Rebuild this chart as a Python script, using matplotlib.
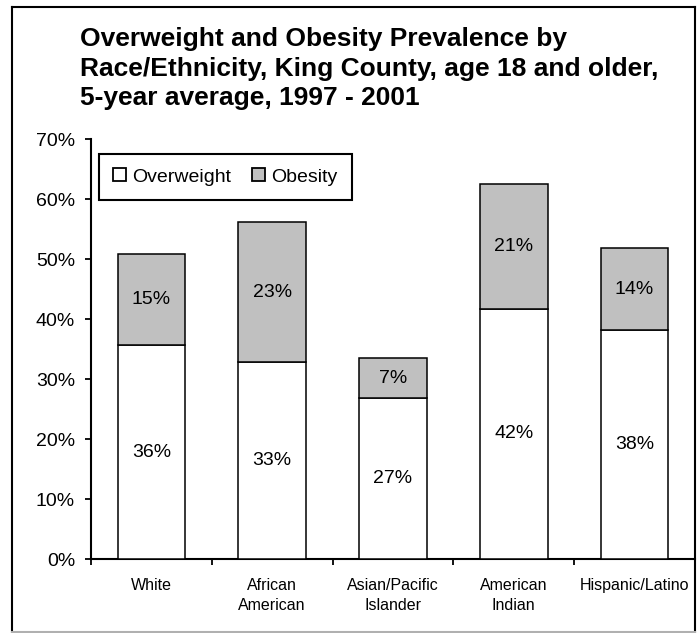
import matplotlib
matplotlib.use("Agg")
import matplotlib.pyplot as plt
from matplotlib.lines import Line2D
from matplotlib.ticker import FixedLocator

plt.rcParams.update({
    "font.family": ["Liberation Sans", "DejaVu Sans"],
    "font.size": 14,
})

categories = ["White", "African\nAmerican", "Asian/Pacific\nIslander", "American\nIndian", "Hispanic/Latino"]
overweight = [35.6, 32.8, 26.8, 41.7, 38.2]
obesity = [15.3, 23.3, 6.7, 20.8, 13.6]
yticks = [0, 10, 20, 30, 40, 50, 60, 70]

title_lines = ["Overweight and Obesity Prevalence by",
               "Race/Ethnicity, King County, age 18 and older,",
               "5-year average, 1997 - 2001"]

W, H = 698, 633
fig = plt.figure(figsize=(W / 100, H / 100), dpi=100)
fig.patch.set_facecolor("white")

# axes box in pixels: x 91..695, y 139..559
ax = fig.add_axes([91 / W, (H - 559) / H, (695 - 91) / W, (559 - 139) / H])

x = list(range(len(categories)))
bw = 0.56
ax.bar(x, overweight, width=bw, color="white", edgecolor="black", lw=1.1, zorder=3)
ax.bar(x, obesity, width=bw, bottom=overweight, color="#c0c0c0", edgecolor="black", lw=1.1, zorder=3)

for i in x:
    ax.text(i, overweight[i] / 2, f"{overweight[i]:.0f}%", ha="center", va="center", fontsize=14)
    ax.text(i, overweight[i] + obesity[i] / 2, f"{obesity[i]:.0f}%", ha="center", va="center", fontsize=14)

ax.set_xlim(-0.5, len(categories) - 0.5)
ax.set_ylim(0, 70)
ax.set_yticks(yticks)
ax.set_yticklabels([f"{v}%" for v in yticks])
ax.set_xticks(x)
ax.set_xticklabels(categories, fontsize=11.5, linespacing=1.35)
ax.xaxis.set_minor_locator(FixedLocator([i - 0.5 for i in range(len(categories) + 1)]))
ax.tick_params(axis="x", which="major", length=0, pad=14)
ax.tick_params(axis="x", which="minor", length=4.5, width=1.3, direction="out")
ax.tick_params(axis="y", length=4.5, width=1.3, direction="out", pad=7)

for s in ["top", "right"]:
    ax.spines[s].set_visible(False)
for s in ["left", "bottom"]:
    ax.spines[s].set_linewidth(1.5)

handles = [
    plt.Rectangle((0, 0), 1, 1, facecolor="white", edgecolor="black", lw=1.3),
    plt.Rectangle((0, 0), 1, 1, facecolor="#c0c0c0", edgecolor="black", lw=1.3),
]
leg = ax.legend(handles, ["Overweight", "Obesity"], ncol=2, loc="upper left",
                bbox_to_anchor=(0.013, 0.965), borderaxespad=0, fontsize=14,
                fancybox=False, framealpha=1, edgecolor="black",
                handlelength=0.65, handleheight=0.65, handletextpad=0.3,
                columnspacing=1.1, borderpad=0.75)
leg.get_frame().set_linewidth(1.5)

# title, one line per baseline
for line, base in zip(title_lines, [46, 76, 105]):
    fig.text(80 / W, 1 - base / H, line, ha="left", va="baseline", fontsize=19,
             fontweight="bold")

# outer frame
fr = dict(transform=fig.transFigure, lw=1.5)
fig.add_artist(Line2D([12 / W, 12 / W], [1 - 7 / H, 1 - 632 / H], color="black", **fr))
fig.add_artist(Line2D([12 / W, 695 / W], [1 - 7 / H, 1 - 7 / H], color="black", **fr))
fig.add_artist(Line2D([695 / W, 695 / W], [1 - 7 / H, 1 - 632 / H], color="black", **fr))
fig.add_artist(Line2D([12 / W, 695 / W], [1 - 632 / H, 1 - 632 / H], color="#b0b0b0", **fr))

fig.savefig("out.png", dpi=100, facecolor="white")
